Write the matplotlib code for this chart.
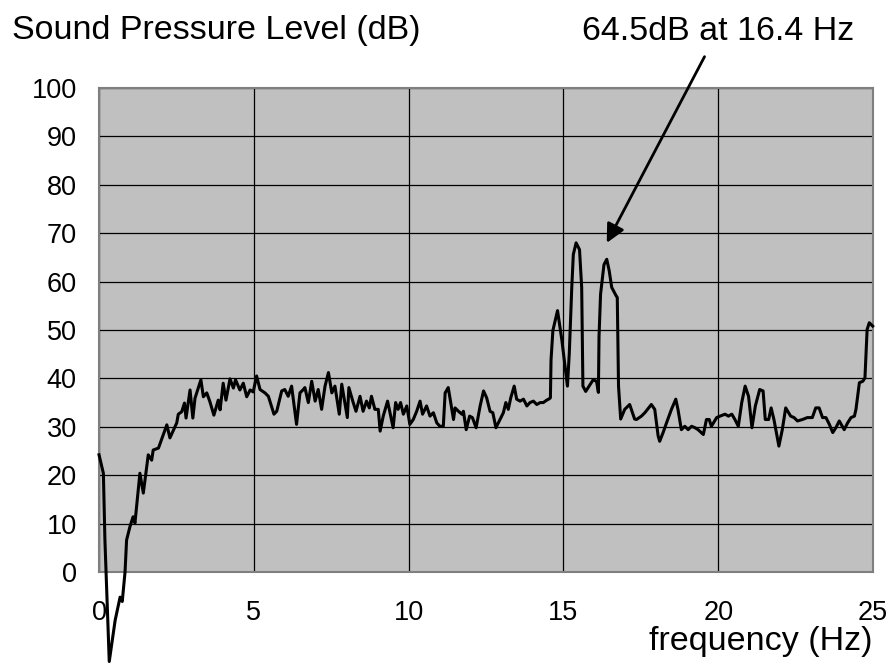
import matplotlib
matplotlib.use('Agg')
import matplotlib.pyplot as plt

# ── Data ─────────────────────────────────────────────────────────────────────
freq_hz = [
    0.00, 0.14, 0.19, 0.33, 0.52, 0.68, 0.75, 0.84, 0.89, 1.00,
    1.10, 1.16, 1.32, 1.43, 1.59, 1.70, 1.75, 1.92, 2.19, 2.29,
    2.51, 2.56, 2.67, 2.76, 2.81, 2.94, 3.03, 3.10, 3.29, 3.37,
    3.48, 3.58, 3.71, 3.85, 3.91, 4.01, 4.10, 4.23, 4.34, 4.41,
    4.55, 4.66, 4.77, 4.88, 4.98, 5.09, 5.20, 5.36, 5.47, 5.65,
    5.74, 5.90, 6.00, 6.11, 6.22, 6.38, 6.49, 6.60, 6.65, 6.76,
    6.87, 6.98, 7.08, 7.19, 7.30, 7.41, 7.52, 7.62, 7.76, 7.84,
    8.02, 8.07, 8.21, 8.30, 8.43, 8.53, 8.64, 8.73, 8.80, 8.91,
    9.02, 9.08, 9.18, 9.32, 9.40, 9.50, 9.58, 9.66, 9.74, 9.83,
    9.94, 10.04, 10.15, 10.26, 10.37, 10.45, 10.58, 10.69, 10.80, 10.91,
    11.01, 11.12, 11.18, 11.28, 11.45, 11.50, 11.61, 11.72, 11.77, 11.86,
    11.97, 12.06, 12.18, 12.31, 12.42, 12.52, 12.63, 12.72, 12.82, 12.95,
    13.06, 13.14, 13.22, 13.30, 13.41, 13.49, 13.60, 13.71, 13.82, 13.92,
    14.03, 14.14, 14.25, 14.35, 14.46, 14.55, 14.58, 14.60, 14.66, 14.81,
    14.95, 15.13, 15.19, 15.27, 15.32, 15.41, 15.52, 15.59, 15.63, 15.72,
    15.86, 15.96, 16.07, 16.13, 16.15, 16.20, 16.31, 16.40, 16.48, 16.56,
    16.70, 16.74, 16.78, 16.85, 16.98, 17.14, 17.30, 17.36, 17.52, 17.63,
    17.84, 17.95, 18.06, 18.11, 18.22, 18.33, 18.49, 18.63, 18.70, 18.81,
    18.92, 19.03, 19.14, 19.25, 19.35, 19.52, 19.62, 19.71, 19.78, 19.95,
    20.06, 20.22, 20.33, 20.44, 20.54, 20.65, 20.76, 20.87, 20.98, 21.09,
    21.20, 21.34, 21.45, 21.52, 21.63, 21.71, 21.80, 21.96, 22.07, 22.18,
    22.34, 22.45, 22.56, 22.72, 22.88, 23.04, 23.15, 23.26, 23.37, 23.48,
    23.59, 23.70, 23.80, 23.91, 24.07, 24.18, 24.29, 24.40, 24.45, 24.56,
    24.67, 24.74, 24.81, 24.88, 24.99,
]
spl_db = [
    24.2, 20.4, 6.6, -18.5, -10.0, -5.2, -6.1, 0.0, 6.6, 9.4,
    11.4, 10.1, 20.4, 16.3, 24.2, 23.1, 25.2, 25.6, 30.4, 27.7,
    30.8, 32.6, 33.1, 34.9, 31.8, 37.6, 31.8, 35.9, 39.7, 36.2,
    37.0, 35.2, 32.4, 35.5, 33.5, 39.0, 35.5, 39.9, 38.0, 39.7,
    37.6, 39.0, 36.2, 37.6, 37.2, 40.5, 37.7, 37.0, 36.3, 32.6,
    33.2, 37.4, 37.7, 36.3, 38.4, 30.5, 37.0, 37.7, 38.1, 35.0,
    39.4, 35.3, 37.7, 33.6, 38.4, 41.2, 37.0, 38.4, 32.6, 38.8,
    31.9, 38.1, 35.0, 33.2, 36.3, 33.2, 35.3, 33.9, 36.3, 33.6,
    33.6, 29.1, 32.2, 35.3, 32.9, 29.8, 35.0, 33.6, 35.0, 32.6,
    34.3, 30.5, 31.5, 33.2, 35.3, 32.6, 34.3, 32.2, 32.9, 30.8,
    30.1, 30.1, 37.0, 38.1, 31.5, 33.9, 33.2, 32.6, 33.2, 29.4,
    32.2, 31.9, 29.8, 34.3, 37.4, 36.0, 33.2, 32.9, 29.8, 31.5,
    32.9, 35.0, 33.6, 36.0, 38.4, 35.7, 35.3, 35.7, 34.3, 35.0,
    35.3, 34.6, 35.0, 35.0, 35.5, 35.8, 36.0, 43.8, 49.9, 54.0,
    47.9, 38.4, 45.2, 58.8, 65.6, 68.0, 66.6, 58.8, 38.4, 37.3,
    38.7, 39.7, 39.4, 37.1, 48.6, 57.4, 63.5, 64.6, 62.2, 58.8,
    57.1, 56.7, 38.4, 31.6, 33.6, 34.6, 31.6, 31.5, 32.2, 32.9,
    34.6, 33.6, 28.1, 27.0, 28.8, 30.8, 33.6, 35.7, 33.6, 29.4,
    30.1, 29.4, 30.1, 29.8, 29.4, 28.4, 31.5, 31.5, 30.1, 31.9,
    32.2, 32.6, 32.2, 32.6, 31.5, 30.1, 35.0, 38.4, 36.3, 29.8,
    34.3, 37.7, 37.4, 31.5, 31.5, 33.9, 31.5, 26.0, 29.4, 33.9,
    32.2, 31.9, 31.2, 31.5, 31.9, 31.9, 33.9, 33.9, 31.9, 31.9,
    30.5, 28.8, 29.8, 31.2, 29.4, 30.8, 31.9, 32.2, 33.6, 39.1,
    39.4, 40.1, 50.1, 51.5, 50.8,
]
x_ticks = [0, 5, 10, 15, 20, 25]
y_ticks = list(range(0, 101, 10))
peak_label = '64.5dB at 16.4 Hz'
peak_xy = (16.4, 68)

# ── Figure ───────────────────────────────────────────────────────────────────
plt.rcParams['font.family'] = ['Liberation Sans', 'DejaVu Sans']

fig = plt.figure(figsize=(8.89, 6.64), dpi=100)
ax = fig.add_axes([0.1114, 0.1386, 0.8706, 0.7289])
ax.set_facecolor('#c0c0c0')

ax.plot(freq_hz, spl_db, color='black', lw=2.2, clip_on=False, zorder=3)

ax.set_xlim(0, 25)
ax.set_ylim(0, 100)
ax.set_xticks(x_ticks)
ax.set_yticks(y_ticks)
ax.tick_params(axis='both', length=0, labelsize=19.5)
ax.tick_params(axis='x', pad=20)
ax.tick_params(axis='y', pad=16)
ax.grid(True, color='black', lw=0.9)
ax.set_axisbelow(True)
for sp in ax.spines.values():
    sp.set_color('#7f7f7f')
    sp.set_linewidth(1.5)

ax.set_xlabel('frequency (Hz)', fontsize=24.5, loc='right', labelpad=0)
fig.text(12 / 889, 1 - 31 / 664, 'Sound Pressure Level (dB)',
         fontsize=24.5, ha='left', va='center')

ax.annotate(peak_label, xy=peak_xy, xycoords='data',
            xytext=(718 / 889, 1 - 31 / 664), textcoords='figure fraction',
            fontsize=24.5, ha='center', va='center',
            arrowprops=dict(arrowstyle='-|>', color='black', lw=2,
                            mutation_scale=28, shrinkA=6, shrinkB=0))

fig.savefig('out.png', dpi=100)
